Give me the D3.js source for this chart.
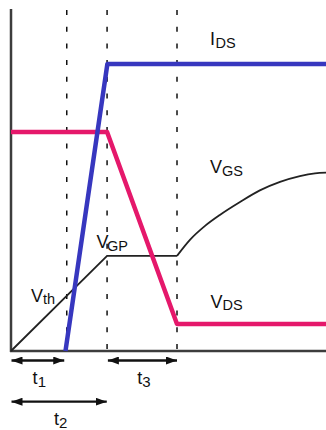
<!DOCTYPE html>
<html><head><meta charset="utf-8">
<script src="https://cdn.jsdelivr.net/npm/d3@7"></script>
<style>html,body{margin:0;padding:0;background:#fff;}svg{display:block;}text{font-family:"Liberation Sans",Arial,sans-serif;fill:#111;}</style>
</head><body>
<svg id="c" width="326" height="430"></svg>
<script>
// time (0-100 arbitrary units), level (0-100 arbitrary units)
const timeMarks = [17.7, 30.5, 52.7];           // end of t1, end of t2, end of t3
const idsTime = [17.3, 30.6, 100];
const idsValue = [0, 84.2, 84.2];
const vdsTime = [0, 30.5, 52.7, 100];
const vdsValue = [64.2, 64.2, 7.9, 7.9];
const vgsRampTime = [0, 30.5, 52.7];
const vgsRampValue = [0, 27.9, 27.9];
const vgsRiseTime = [52.7, 56.8, 61.6, 66.3, 72.7, 79.0, 85.4, 91.7, 96.5, 100];
const vgsRiseValue = [27.9, 32.6, 36.7, 39.9, 43.7, 47.1, 49.6, 51.3, 52.1, 52.3];
const intervals = [{name:"t", sub:"1", from:0, to:16.9},
                   {name:"t", sub:"3", from:30.6, to:52.7},
                   {name:"t", sub:"2", from:0, to:30.4}];

const svg = d3.select("#c");
const x = d3.scaleLinear().domain([0,100]).range([11,326]);
const y = d3.scaleLinear().domain([0,100]).range([351,10]);
const zip = (a,b)=>a.map((d,i)=>[d,b[i]]);
const line = d3.line().x(d=>x(d[0])).y(d=>y(d[1]));

// axes
svg.append("line").attr("x1",x(0)).attr("x2",x(0)).attr("y1",y(0)+1).attr("y2",y(100)-1)
  .attr("stroke","#3d3d3d").attr("stroke-width",2.5);
svg.append("line").attr("x1",x(0)-1).attr("x2",x(100)).attr("y1",y(0)).attr("y2",y(0))
  .attr("stroke","#3d3d3d").attr("stroke-width",2.5);

// dashed markers
svg.selectAll(".dash").data(timeMarks).enter().append("line")
  .attr("x1",d=>x(d)).attr("x2",d=>x(d)).attr("y1",y(100)).attr("y2",y(0))
  .attr("stroke","#111").attr("stroke-width",1.5).attr("stroke-dasharray","5,11.7");

// VGS
svg.append("path").attr("d",line(zip(vgsRampTime,vgsRampValue)))
  .attr("fill","none").attr("stroke","#222").attr("stroke-width",1.8);
svg.append("path").attr("d",d3.line().x(d=>x(d[0])).y(d=>y(d[1])).curve(d3.curveMonotoneX)(zip(vgsRiseTime,vgsRiseValue)))
  .attr("fill","none").attr("stroke","#222").attr("stroke-width",1.8);

// VDS
svg.append("path").attr("d",line(zip(vdsTime,vdsValue)))
  .attr("fill","none").attr("stroke","#e5186b").attr("stroke-width",4.5).attr("stroke-linejoin","round");
// IDS
svg.append("path").attr("d",line(zip(idsTime,idsValue)))
  .attr("fill","none").attr("stroke","#3737bf").attr("stroke-width",4.5).attr("stroke-linejoin","round");

// labels
function label(px,py,main,sub,dx){
  const t = svg.append("text").attr("x",px).attr("y",py).attr("font-size",18);
  t.append("tspan").text(main);
  t.append("tspan").attr("dx",dx||0).attr("dy",2.5).attr("font-size",14.5).text(sub);
}
label(210,45,"I","DS",0.5);
label(210,173,"V","GS",0);
label(96.5,248,"V","GP",-1.5);
label(31,301.5,"V","th",0);
label(210.5,307.5,"V","DS",0);

// interval arrows
const defs = svg.append("defs");
defs.append("marker").attr("id","ah").attr("viewBox","0 0 11 8").attr("refX",11).attr("refY",4)
  .attr("markerWidth",11).attr("markerHeight",8).attr("markerUnits","userSpaceOnUse").attr("orient","auto-start-reverse")
  .append("path").attr("d","M0,0L11,4L0,8Z").attr("fill","#111");
const rowY = [360.5, 360.5, 401.7];
const labY = [384, 384, 425];
intervals.forEach((d,i)=>{
  svg.append("line").attr("x1",x(d.from)+0.5).attr("x2",x(d.to)).attr("y1",rowY[i]).attr("y2",rowY[i])
    .attr("stroke","#111").attr("stroke-width",2.3)
    .attr("marker-start","url(#ah)").attr("marker-end","url(#ah)");
  const cx = (x(d.from)+x(d.to))/2;
  const t = svg.append("text").attr("x",cx-5).attr("y",labY[i]).attr("font-size",18);
  t.append("tspan").text(d.name);
  t.append("tspan").attr("dy",3).attr("font-size",15).text(d.sub);
});
</script>
</body></html>
